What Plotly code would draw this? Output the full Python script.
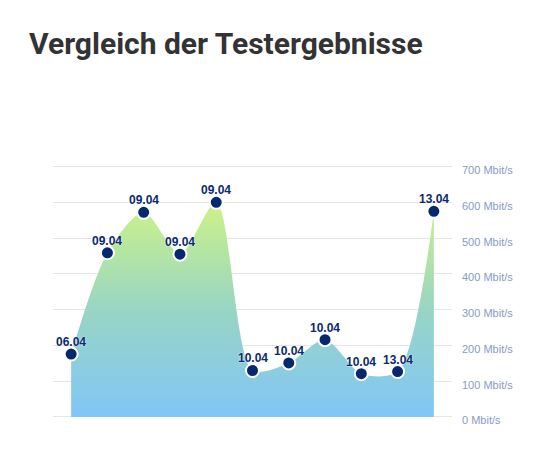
import plotly.graph_objects as go

categories = list(range(11))
dates = ["06.04", "09.04", "09.04", "09.04", "09.04", "10.04", "10.04", "10.04", "10.04", "13.04", "13.04"]
speeds = [176, 459, 572, 455, 600, 130, 151, 216, 121, 127, 575]
tick_vals = [0, 100, 200, 300, 400, 500, 600, 700]
tick_text = [f"{v} Mbit/s" for v in tick_vals]
title_text = "Vergleich der Testergebnisse"

# page body has an 8px margin -> figure placed at (8,8); keep it inside the window
W, H = 552, 437
PXU = 250 / 700          # pixels per Mbit/s
YMIN, YMAX = -14, 710
LABEL_DROP = 10          # tick labels sit ~3.6px below their grid lines
ZERO_Y = 409             # pixel row of the 0 line inside the figure
L, R = 45, 552 - 444
B = (H - ZERO_Y) - PXU * (-YMIN)
T = ZERO_Y - PXU * YMAX
pw = W - L - R
ph = H - T - B

fig = go.Figure()
fig.add_trace(go.Scatter(
    x=categories, y=speeds,
    mode="lines",
    line=dict(shape="spline", smoothing=0.8, width=0, color="rgba(0,0,0,0)"),
    fill="tozeroy",
    fillgradient=dict(type="vertical", start=0, stop=600,
                      colorscale=[[0, "#81c6f7"], [0.5, "#98d5c4"], [1, "#cdf288"]]),
    hoverinfo="skip",
    showlegend=False,
))
fig.add_trace(go.Scatter(
    x=categories, y=speeds,
    mode="markers",
    marker=dict(size=13, color="#06286f", line=dict(color="white", width=2)),
    cliponaxis=False,
    showlegend=False,
    hoverinfo="skip",
))

annotations = [
    dict(x=c, y=v, text=d, xref="x", yref="y", showarrow=False,
         xanchor="center", yanchor="bottom", yshift=3,
         font=dict(family="Arial, Liberation Sans", size=12, color="#0b2a6f",
                   weight="bold", shadow="0px 0px 2px white"))
    for c, v, d in zip(categories, speeds, dates)
]
annotations.append(dict(
    text=title_text, xref="paper", yref="paper",
    x=(19 - L) / pw, y=(H - B - 48) / ph, xanchor="left", yanchor="bottom", yshift=-8,
    showarrow=False,
    font=dict(family="Roboto", size=30, color="#333333", weight="bold")))

fig.update_layout(
    width=W, height=H,
    margin=dict(l=L, r=R, t=T, b=B, pad=0),
    paper_bgcolor="white", plot_bgcolor="white",
    xaxis=dict(range=[-0.5, 10.5], showgrid=False, zeroline=False,
               showticklabels=False, fixedrange=True),
    yaxis=dict(range=[YMIN, YMAX], side="right",
               tickvals=[v - LABEL_DROP for v in tick_vals], ticktext=tick_text,
               showgrid=False, zeroline=False,
               ticklabelstandoff=9,
               tickfont=dict(family="Arial, Liberation Sans", size=11, color="#8a9ac8"),
               minor=dict(tickvals=tick_vals, showgrid=True, gridcolor="#e6e6e6",
                          gridwidth=1, ticks="")),
    annotations=annotations,
    shapes=[dict(type="rect", xref="paper", yref="paper",
                 x0=(546 - L) / pw, x1=(552 - L) / pw,
                 y0=-B / ph, y1=(H - B - 2) / ph,
                 fillcolor="#efefef", line=dict(width=0), layer="above")],
)
fig.write_html("out.html")
